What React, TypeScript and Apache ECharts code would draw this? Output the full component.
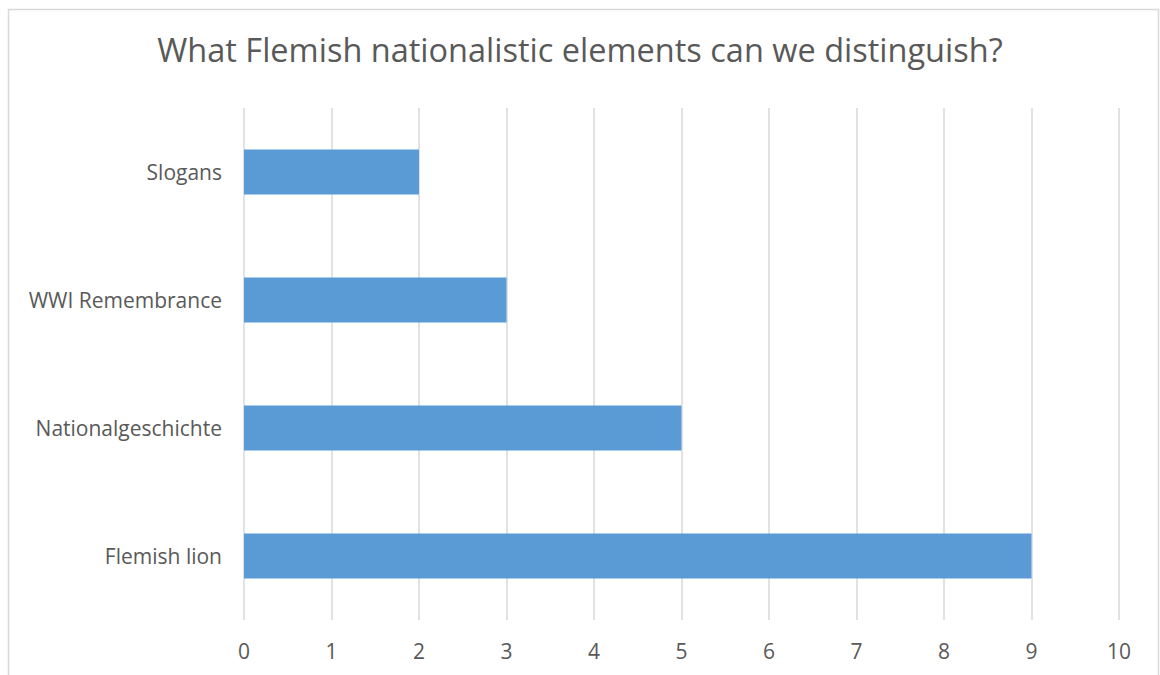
import React, { useEffect, useRef } from "react";
import * as echarts from "echarts";

const categories = ["Flemish lion", "Nationalgeschichte", "WWI Remembrance", "Slogans"];
const values = [9, 5, 3, 2];
const xTicks = [0, 10, 1];
const titleText = "What Flemish nationalistic elements can we distinguish?";

export default function App() {
  const ref = useRef<HTMLDivElement>(null);
  useEffect(() => {
    document.body.style.margin = "0";
    const chart = echarts.init(ref.current!, null, { renderer: "svg" });
    const font = "'Open Sans', 'Noto Sans', sans-serif";
    chart.setOption({
      animation: false,
      backgroundColor: "#ffffff",
      textStyle: { fontFamily: font },
      title: {
        text: titleText,
        left: "center",
        top: 28,
        textStyle: { fontFamily: font, fontSize: 32.5, fontWeight: "normal", color: "#595959" },
      },
      graphic: [
        {
          type: "rect",
          shape: { x: 8.5, y: 9.5, width: 1150, height: 700 },
          style: { fill: "none", stroke: "#d9d9d9", lineWidth: 1.5 },
          silent: true,
        },
      ],
      grid: { left: 244, right: 41, top: 108, height: 512 },
      xAxis: {
        type: "value",
        min: xTicks[0],
        max: xTicks[1],
        interval: xTicks[2],
        axisLine: { show: false },
        axisTick: { show: false },
        splitLine: { lineStyle: { color: "#d9d9d9", width: 1.5 } },
        axisLabel: { fontFamily: font, fontSize: 21, color: "#595959", margin: 20 },
      },
      yAxis: {
        type: "category",
        data: categories,
        axisLine: { show: false },
        axisTick: { show: false },
        axisLabel: { fontFamily: font, fontSize: 21, color: "#595959", margin: 22 },
      },
      series: [
        {
          type: "bar",
          data: values,
          barWidth: "35%",
          itemStyle: { color: "#5b9bd5" },
        },
      ],
    });
    return () => chart.dispose();
  }, []);
  return <div ref={ref} style={{ width: 1160, height: 675 }} />;
}
